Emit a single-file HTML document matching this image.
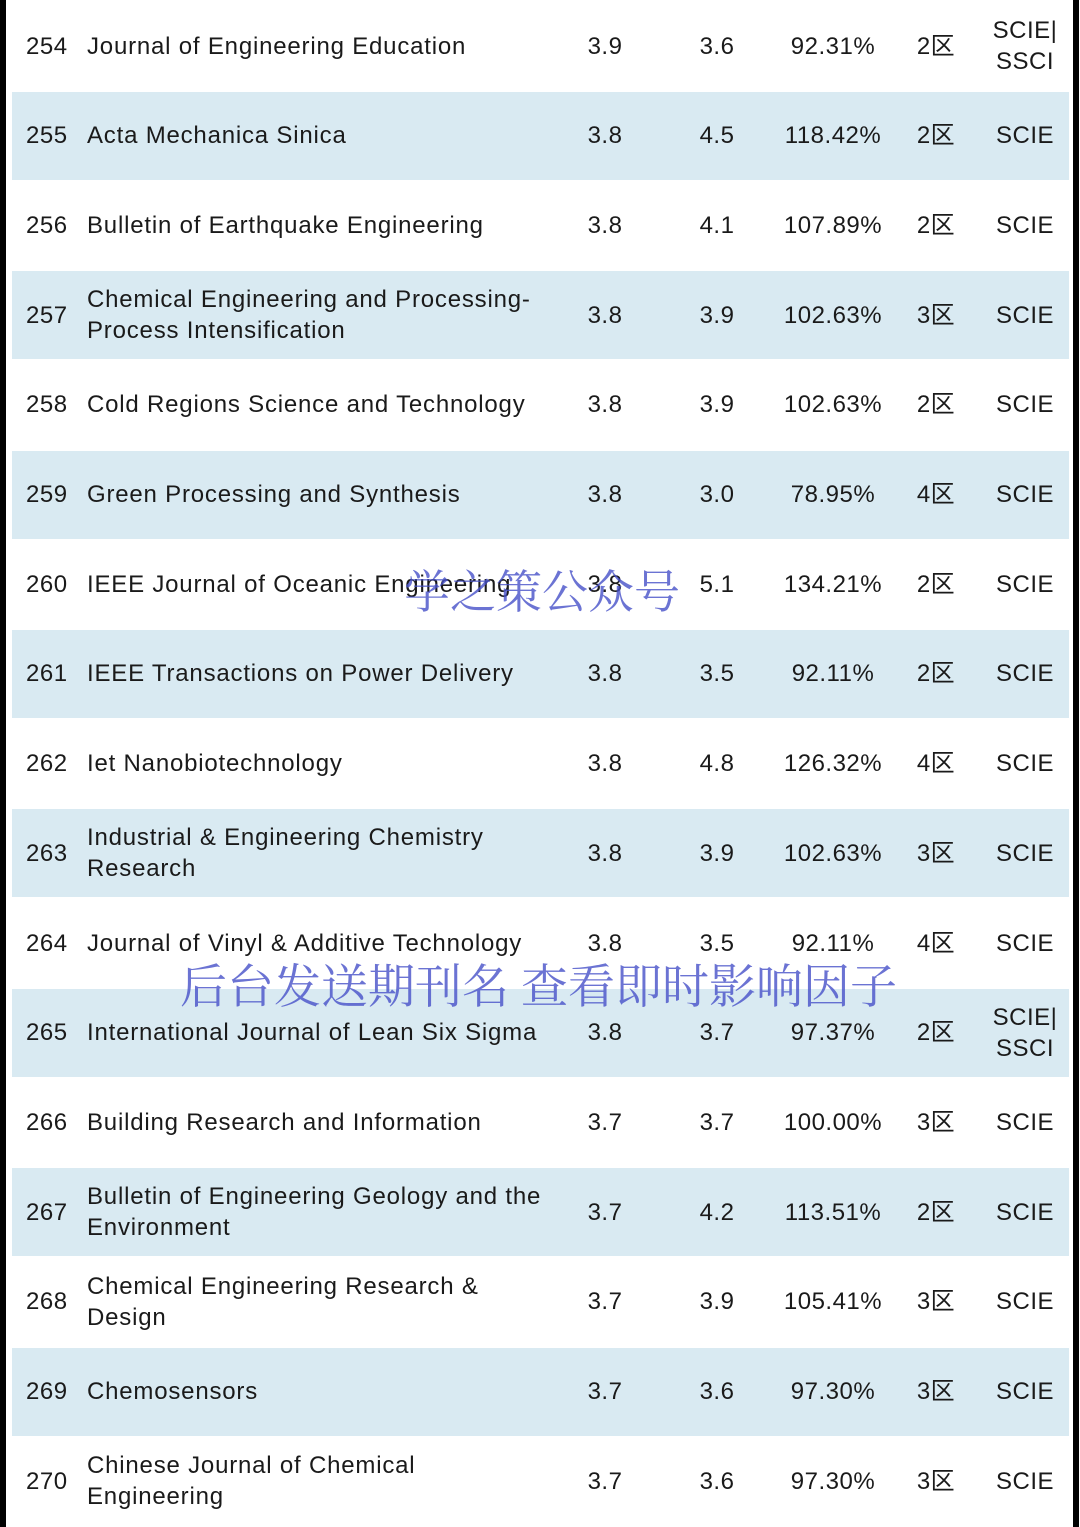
<!DOCTYPE html>
<html><head><meta charset="utf-8"><style>
html,body{margin:0;padding:0;}
body{width:1080px;height:1527px;position:relative;overflow:hidden;background:#fff;font-family:"Liberation Sans","Noto Sans CJK SC",sans-serif;color:#1a1a1a;}
.bl{position:absolute;top:0;width:6px;height:1527px;background:#000;}
.row{position:absolute;left:0;width:1080px;height:90px;}
.band{position:absolute;left:12px;width:1057px;top:1px;height:88px;background:#d9eaf2;}
.c{position:absolute;top:0;height:90px;display:flex;align-items:center;font-size:24px;line-height:31px;letter-spacing:0.5px;}
.num{left:26px;}
.name{left:87px;width:480px;letter-spacing:0.8px;}
.ctr{justify-content:center;text-align:center;}
.wm{position:absolute;font-family:"Noto Serif CJK SC","WenQuanYi Zen Hei",serif;color:rgba(70,80,200,0.8);white-space:nowrap;}
</style></head><body>
<div class="bl" style="left:0"></div>
<div class="bl" style="left:1073px"></div>
<div id="tbl"></div>
<div class="wm" style="left:404px;top:556px;font-size:46px;">学之策公众号</div>
<div class="wm" style="left:180px;top:950px;font-size:47px;">后台发送期刊名 查看即时影响因子</div>
<script>
const ranks=[254,255,256,257,258,259,260,261,262,263,264,265,266,267,268,269,270];
const names=["Journal of Engineering Education","Acta Mechanica Sinica","Bulletin of Earthquake Engineering","Chemical Engineering and Processing-<br>Process Intensification","Cold Regions Science and Technology","Green Processing and Synthesis","IEEE Journal of Oceanic Engineering","IEEE Transactions on Power Delivery","Iet Nanobiotechnology","Industrial &amp; Engineering Chemistry<br>Research","Journal of Vinyl &amp; Additive Technology","International Journal of Lean Six Sigma","Building Research and Information","Bulletin of Engineering Geology and the<br>Environment","Chemical Engineering Research &amp;<br>Design","Chemosensors","Chinese Journal of Chemical<br>Engineering"];
const if1=["3.9","3.8","3.8","3.8","3.8","3.8","3.8","3.8","3.8","3.8","3.8","3.8","3.7","3.7","3.7","3.7","3.7"];
const if2=["3.6","4.5","4.1","3.9","3.9","3.0","5.1","3.5","4.8","3.9","3.5","3.7","3.7","4.2","3.9","3.6","3.6"];
const pct=["92.31%","118.42%","107.89%","102.63%","102.63%","78.95%","134.21%","92.11%","126.32%","102.63%","92.11%","97.37%","100.00%","113.51%","105.41%","97.30%","97.30%"];
const zone=["2区","2区","2区","3区","2区","4区","2区","2区","4区","3区","4区","2区","3区","2区","3区","3区","3区"];
const idx=["SCIE|<br>SSCI","SCIE","SCIE","SCIE","SCIE","SCIE","SCIE","SCIE","SCIE","SCIE","SCIE","SCIE|<br>SSCI","SCIE","SCIE","SCIE","SCIE","SCIE"];
const tbl=document.getElementById('tbl');
const pitch=89.7;
for(let i=0;i<ranks.length;i++){
  const r=document.createElement('div');
  r.className='row';
  
  
  r.style.top=(i*pitch+1)+'px';
  let h='';
  if(i%2===1) h+='<div class="band"></div>';
  h+='<div class="c num">'+ranks[i]+'</div>';
  h+='<div class="c name">'+names[i]+'</div>';
  h+='<div class="c ctr" style="left:565px;width:80px">'+if1[i]+'</div>';
  h+='<div class="c ctr" style="left:677px;width:80px">'+if2[i]+'</div>';
  h+='<div class="c ctr" style="left:773px;width:120px">'+pct[i]+'</div>';
  h+='<div class="c ctr" style="left:896px;width:80px">'+zone[i]+'</div>';
  h+='<div class="c ctr" style="left:980px;width:90px">'+idx[i]+'</div>';
  r.innerHTML=h;
  tbl.appendChild(r);
}
</script>
</body></html>
